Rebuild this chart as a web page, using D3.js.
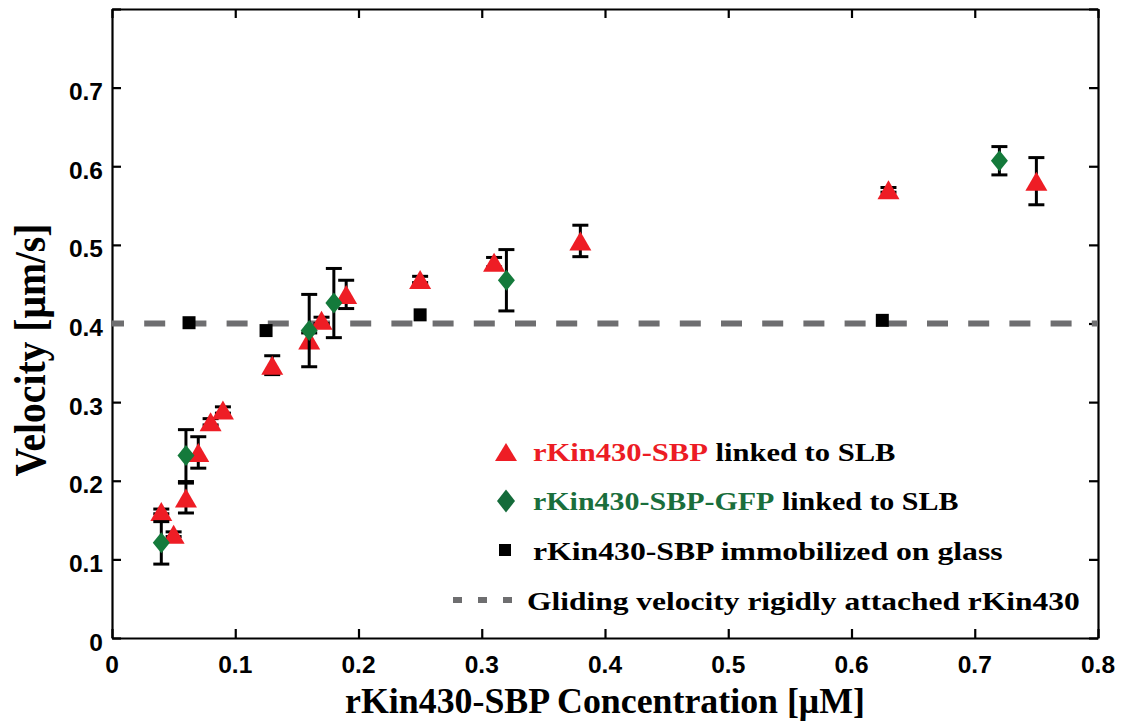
<!DOCTYPE html>
<html>
<head>
<meta charset="utf-8">
<script src="https://cdn.jsdelivr.net/npm/d3@7/dist/d3.min.js"></script>
<style>
  html, body { margin: 0; padding: 0; background: #fff; }
  svg { display: block; }
</style>
</head>
<body>
<svg id="chart" width="1122" height="725"></svg>
<script>
// rKin430-SBP linked to SLB (red triangles)
const slbConc = [0.04, 0.05, 0.06, 0.07, 0.08, 0.09, 0.13, 0.16, 0.17, 0.19, 0.25, 0.31, 0.38, 0.63, 0.75];
const slbVel  = [0.161, 0.132, 0.178, 0.236, 0.275, 0.290, 0.347, 0.379, 0.404, 0.437, 0.456, 0.478, 0.505, 0.570, 0.581];
const slbErr  = [0.003, 0.003, 0.019, 0.020, 0.004, 0.004, 0.012, 0.009, 0.004, 0.018, 0.004, 0.006, 0.020, 0.003, 0.030];

// rKin430-SBP-GFP linked to SLB (green diamonds)
const gfpConc = [0.04, 0.06, 0.16, 0.18, 0.32, 0.72];
const gfpVel  = [0.121, 0.232, 0.391, 0.426, 0.455, 0.607];
const gfpErr  = [0.027, 0.033, 0.046, 0.044, 0.039, 0.018];

// rKin430-SBP immobilized on glass (black squares)
const glassConc = [0.0625, 0.125, 0.25, 0.625];
const glassVel  = [0.401, 0.391, 0.411, 0.404];

// Gliding velocity of rigidly attached rKin430
const rigidVelocity = 0.4;

const xTicks = [0, 0.1, 0.2, 0.3, 0.4, 0.5, 0.6, 0.7, 0.8];
const xTickLabels = ["0", "0.1", "0.2", "0.3", "0.4", "0.5", "0.6", "0.7", "0.8"];
const yTicks = [0, 0.1, 0.2, 0.3, 0.4, 0.5, 0.6, 0.7, 0.8];
const yTickLabels = ["0", "0.1", "0.2", "0.3", "0.4", "0.5", "0.6", "0.7", ""];

const legendLabels = [
  { colored: "rKin430-SBP", rest: " linked to SLB", color: "#ec1c24" },
  { colored: "rKin430-SBP-GFP", rest: " linked to SLB", color: "#1a6e3c" },
  { colored: "", rest: "rKin430-SBP immobilized on glass", color: "#000" },
  { colored: "", rest: "Gliding velocity rigidly attached rKin430", color: "#000" }
];

const RED = "#ee1d25";
const GREEN = "#147a3b";
const DASH = "#6e6e70";

const svg = d3.select("#chart");
svg.append("rect").attr("width", 1122).attr("height", 725).attr("fill", "#fff");

const box = { left: 112, right: 1098, top: 9, bottom: 638 };
const x = d3.scaleLinear().domain([0, 0.8]).range([box.left, box.right]);
const y = d3.scaleLinear().domain([0, 0.8]).range([box.bottom, box.top]);

const serif = "'Liberation Serif', 'DejaVu Serif', serif";
const sans = "'Liberation Sans', Arial, sans-serif";

// squeeze a text horizontally to a given width around its anchor
function fitWidth(textSel, px, py, width) {
  const node = textSel.node();
  const natural = node.getComputedTextLength();
  const s = width / natural;
  textSel.attr("x", 0).attr("y", 0)
    .attr("transform", `translate(${px},${py}) scale(${s},1)`);
}

// ---- axes (ticks point inward on all four sides) ----
const tickLen = 9;
const axisStroke = 2.2;

const gx = svg.append("g").attr("transform", `translate(0,${box.bottom})`)
  .call(d3.axisTop(x).tickValues(xTicks).tickSize(tickLen).tickSizeOuter(0).tickFormat(() => ""));
const gxTop = svg.append("g").attr("transform", `translate(0,${box.top})`)
  .call(d3.axisBottom(x).tickValues(xTicks).tickSize(tickLen).tickSizeOuter(0).tickFormat(() => ""));
const gy = svg.append("g").attr("transform", `translate(${box.left},0)`)
  .call(d3.axisRight(y).tickValues(yTicks).tickSize(tickLen).tickSizeOuter(0).tickFormat(() => ""));
const gyRight = svg.append("g").attr("transform", `translate(${box.right},0)`)
  .call(d3.axisLeft(y).tickValues(yTicks).tickSize(tickLen).tickSizeOuter(0).tickFormat(() => ""));

[gx, gxTop, gy, gyRight].forEach(g => {
  g.selectAll("path").attr("stroke", "#000").attr("stroke-width", axisStroke);
  g.selectAll("line").attr("stroke", "#000").attr("stroke-width", axisStroke);
});

// tick labels
const xLab = svg.append("g");
xTicks.forEach((v, i) => {
  xLab.append("text")
    .attr("x", x(v)).attr("y", 673)
    .attr("text-anchor", "middle")
    .attr("font-family", sans).attr("font-weight", "bold").attr("font-size", 24.5)
    .attr("fill", "#000")
    .text(xTickLabels[i]);
});
const yLab = svg.append("g");
yTicks.forEach((v, i) => {
  if (!yTickLabels[i]) return;
  yLab.append("text")
    .attr("x", 103).attr("y", y(v) + 12.5)
    .attr("text-anchor", "end")
    .attr("font-family", sans).attr("font-weight", "bold").attr("font-size", 24.5)
    .attr("fill", "#000")
    .text(yTickLabels[i]);
});

// axis titles
const xTitle = svg.append("text")
  .attr("text-anchor", "middle")
  .attr("font-family", serif).attr("font-weight", "bold").attr("font-size", 35)
  .attr("fill", "#000")
  .text("rKin430-SBP Concentration [μM]");
fitWidth(xTitle, (box.left + box.right) / 2, 713, 520);

const yTitle = svg.append("text")
  .attr("text-anchor", "middle")
  .attr("font-family", serif).attr("font-weight", "bold").attr("font-size", 44)
  .attr("fill", "#000")
  .text("Velocity [μm/s]");
{
  const natural = yTitle.node().getComputedTextLength();
  const s = 253 / natural;
  yTitle.attr("x", 0).attr("y", 0)
    .attr("transform", `translate(45,350) rotate(-90) scale(${s},1)`);
}

// ---- reference line ----
svg.append("line")
  .attr("x1", x(0)).attr("x2", x(0.8))
  .attr("y1", y(rigidVelocity)).attr("y2", y(rigidVelocity))
  .attr("stroke", DASH).attr("stroke-width", 6)
  .attr("stroke-dasharray", "21,20.2").attr("stroke-dashoffset", 9);

// ---- markers ----
const triPath = (w, h) => `M0,${-h / 2}L${w / 2},${h / 2}L${-w / 2},${h / 2}Z`;
const diaPath = (w, h) => `M0,${-h / 2}L${w / 2},0L0,${h / 2}L${-w / 2},0Z`;
const sqPath = (s) => `M${-s / 2},${-s / 2}h${s}v${s}h${-s}Z`;

function errorBars(g, xs, ys, es) {
  const cap = 8;
  xs.forEach((xv, i) => {
    const x0 = x(xv), lo = y(ys[i] - es[i]), hi = y(ys[i] + es[i]);
    g.append("line").attr("x1", x0).attr("x2", x0).attr("y1", lo).attr("y2", hi)
      .attr("stroke", "#000").attr("stroke-width", 3);
    [lo, hi].forEach(yy => g.append("line")
      .attr("x1", x0 - cap).attr("x2", x0 + cap).attr("y1", yy).attr("y2", yy)
      .attr("stroke", "#000").attr("stroke-width", 3));
  });
}

const red = svg.append("g");
errorBars(red, slbConc, slbVel, slbErr);
red.selectAll("path.tri").data(slbConc).join("path")
  .attr("class", "tri")
  .attr("d", triPath(22, 19))
  .attr("transform", (d, i) => `translate(${x(d)},${y(slbVel[i])})`)
  .attr("fill", RED);

const green = svg.append("g");
errorBars(green, gfpConc, gfpVel, gfpErr);
green.selectAll("path.dia").data(gfpConc).join("path")
  .attr("class", "dia")
  .attr("d", diaPath(17, 21))
  .attr("transform", (d, i) => `translate(${x(d)},${y(gfpVel[i])})`)
  .attr("fill", GREEN);

const black = svg.append("g");
black.selectAll("path.sq").data(glassConc).join("path")
  .attr("class", "sq")
  .attr("d", sqPath(13))
  .attr("transform", (d, i) => `translate(${x(d)},${y(glassVel[i])})`)
  .attr("fill", "#000");

// ---- legend ----
const leg = svg.append("g");
leg.append("path").attr("d", triPath(22, 18)).attr("transform", "translate(506,452)").attr("fill", RED);
leg.append("path").attr("d", diaPath(18, 23)).attr("transform", "translate(506,501)").attr("fill", "#146b3a");
leg.append("path").attr("d", sqPath(12)).attr("transform", "translate(505,550)").attr("fill", "#000");
leg.append("line").attr("x1", 453).attr("x2", 512).attr("y1", 600).attr("y2", 600)
  .attr("stroke", DASH).attr("stroke-width", 6).attr("stroke-dasharray", "9,16");

const legRows = [
  { x: 533, y: 461, w: 361 },
  { x: 533, y: 510, w: 424 },
  { x: 533, y: 560, w: 470 },
  { x: 527, y: 610, w: 553 }
];
legendLabels.forEach((lab, i) => {
  const t = leg.append("text")
    .attr("font-family", serif).attr("font-weight", "bold").attr("font-size", 25)
    .attr("fill", "#000");
  if (lab.colored) t.append("tspan").attr("fill", lab.color).text(lab.colored);
  t.append("tspan").text(lab.rest);
  fitWidth(t, legRows[i].x, legRows[i].y, legRows[i].w);
});
</script>
</body>
</html>
